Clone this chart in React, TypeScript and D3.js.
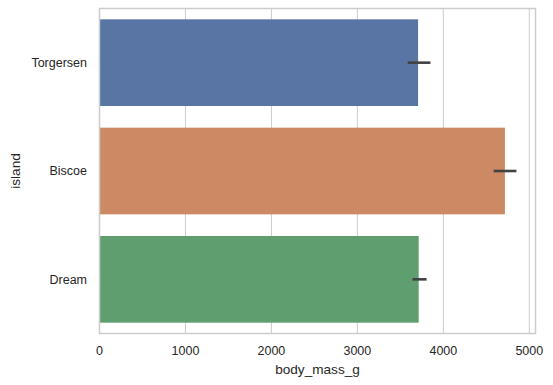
import React from 'react';
import * as d3 from 'd3';

// penguins: mean body mass per island, with bootstrap CI
const islands = ['Torgersen', 'Biscoe', 'Dream'];
const meanMass = [3706, 4716, 3713];
const ciLow = [3585, 4585, 3640];
const ciHigh = [3850, 4850, 3805];
const xTicks = [0, 1000, 2000, 3000, 4000, 5000];
const barColors = ['#5975a4', '#cc8963', '#5f9e6e'];

const W = 553;
const H = 385;
const plot = { left: 99.5, right: 535.5, top: 8.5, bottom: 333.5 };
const font = '"Liberation Sans", Arial, sans-serif';
const textColor = '#262626';
const gridColor = '#cccccc';

export default function App() {
  const x = d3.scaleLinear().domain([0, 5072]).range([plot.left, plot.right]);
  const y = d3
    .scaleBand<string>()
    .domain(islands)
    .range([plot.top, plot.bottom])
    .paddingInner(0.2)
    .paddingOuter(0.1);

  return (
    <svg
      width={W}
      height={H}
      style={{ position: 'absolute', left: 0, top: 0, background: '#fff' }}
      fontFamily={font}
    >
      {/* vertical gridlines */}
      {xTicks.map(t => (
        <line
          key={'g' + t}
          x1={x(t)}
          x2={x(t)}
          y1={plot.top}
          y2={plot.bottom}
          stroke={gridColor}
          strokeWidth={1}
        />
      ))}

      {/* bars */}
      {islands.map((isl, i) => (
        <rect
          key={isl}
          x={x(0)}
          y={y(isl)}
          width={x(meanMass[i]) - x(0)}
          height={y.bandwidth()}
          fill={barColors[i]}
        />
      ))}

      {/* error bars */}
      {islands.map((isl, i) => {
        const cy = (y(isl) ?? 0) + y.bandwidth() / 2;
        return (
          <line
            key={'e' + isl}
            x1={x(ciLow[i])}
            x2={x(ciHigh[i])}
            y1={cy}
            y2={cy}
            stroke="#424242"
            strokeWidth={2.6}
          />
        );
      })}

      {/* spines */}
      <rect
        x={plot.left}
        y={plot.top}
        width={plot.right - plot.left}
        height={plot.bottom - plot.top}
        fill="none"
        stroke={gridColor}
        strokeWidth={1.5}
      />

      {/* x tick labels */}
      {xTicks.map(t => (
        <text
          key={'xt' + t}
          x={x(t)}
          y={354.5}
          textAnchor="middle"
          fontSize={12.5}
          fill={textColor}
        >
          {t}
        </text>
      ))}

      {/* y tick labels */}
      {islands.map(isl => (
        <text
          key={'yt' + isl}
          x={87}
          y={(y(isl) ?? 0) + y.bandwidth() / 2}
          dy="0.35em"
          textAnchor="end"
          fontSize={12.5}
          fill={textColor}
        >
          {isl}
        </text>
      ))}

      {/* axis labels */}
      <text
        x={(plot.left + plot.right) / 2}
        y={373.5}
        textAnchor="middle"
        fontSize={13.6}
        fill={textColor}
      >
        body_mass_g
      </text>
      <text
        transform={`translate(19.5,${(plot.top + plot.bottom) / 2}) rotate(-90)`}
        textAnchor="middle"
        fontSize={13.6}
        fill={textColor}
      >
        island
      </text>
    </svg>
  );
}
